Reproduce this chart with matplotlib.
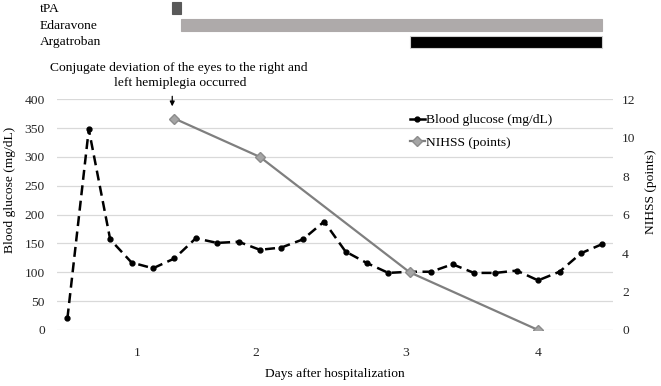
import matplotlib.pyplot as plt
from matplotlib.lines import Line2D

plt.rcParams['font.family'] = ['Liberation Serif', 'DejaVu Serif']
FS = 9.7

# blood glucose measured at regular intervals (index positions on the x axis)
glucose = [20, 348, 157, 117, 107, 124, 159, 151, 153, 139, 143, 157, 188,
           136, 116, 99, 101, 101, 114, 99, 99, 103, 86, 101, 133, 149]
glucose_x = list(range(len(glucose)))

# NIHSS score at the matching glucose time points
nihss_x = [5, 9, 16, 22]
nihss = [11, 9, 3, 0]

# day labels and where they sit on the index axis
day_pos = [3.25, 8.8, 15.8, 22.0]
day_labels = ["1", "2", "3", "4"]

# drug administration periods (start, end) in index units
drugs = ["tPA", "Edaravone", "Argatroban"]
drug_start = [4.9, 5.3, 16.0]
drug_end = [5.3, 25.0, 25.0]
drug_colors = ["#595959", "#AEAAAA", "#000000"]

W, H = 661, 386
fig = plt.figure(figsize=(W / 100, H / 100), dpi=100)

left, right = 56.7 / W, 613 / W
ax = fig.add_axes([left, 1 - 330 / H, right - left, (330 - 99.3) / H])
ax2 = ax.twinx()

ax.plot(glucose_x, glucose, color="black", ls=(0, (4, 2.2)), lw=1.8,
        marker="o", ms=3.5, zorder=3)
ax2.plot(nihss_x, nihss, color="#7F7F7F", lw=1.6, marker="D", ms=5.5,
         mfc="#A5A5A5", mec="#8C8C8C", zorder=2)

ax.set_xlim(-0.5, 25.5)
ax.set_ylim(0, 400)
ax.set_yticks(range(0, 401, 50))
ax2.set_ylim(0, 12)
ax2.set_yticks(range(0, 13, 2))
ax.set_xticks(day_pos)
ax.set_xticklabels(day_labels)
ax.yaxis.grid(True, color="#D9D9D9", lw=0.9)
ax.set_axisbelow(True)

for a in (ax, ax2):
    for s in a.spines.values():
        s.set_visible(False)
    a.tick_params(length=0, labelsize=FS, colors="#262626")
ax.tick_params(axis="y", pad=8.4)
ax.tick_params(axis="x", pad=12)
ax2.tick_params(axis="y", pad=6.5)

ax.set_xlabel("Days after hospitalization", fontsize=FS, labelpad=7)
ax.set_ylabel("Blood glucose (mg/dL)", fontsize=FS)
ax.yaxis.set_label_coords(16 / W, 1 - 190 / H, transform=fig.transFigure)
ax2.set_ylabel("NIHSS (points)", fontsize=FS)
ax2.yaxis.set_label_coords(645 / W, 1 - 192 / H, transform=fig.transFigure)

handles = [
    Line2D([], [], color="black", lw=1.8, marker="o", ms=3.5),
    Line2D([], [], color="#7F7F7F", lw=1.6, marker="D", ms=5.5,
           mfc="#A5A5A5", mec="#8C8C8C"),
]
ax.legend(handles, ["Blood glucose (mg/dL)", "NIHSS (points)"],
          loc="center left", bbox_to_anchor=(410 / W, 1 - 131.5 / H),
          bbox_transform=fig.transFigure, frameon=False,
          fontsize=FS, handlelength=1.1, handletextpad=0.1,
          labelspacing=0.75, borderpad=0, borderaxespad=0)

fig.text(179 / W, 1 - 68 / H, "Conjugate deviation of the eyes to the right and",
         fontsize=FS, va="center", ha="center")
fig.text(180 / W, 1 - 83 / H, "left hemiplegia occurred",
         fontsize=FS, va="center", ha="center")
ax.annotate("", xy=(nihss_x[0] - 0.1, 383), xytext=(nihss_x[0] - 0.1, 410),
            arrowprops=dict(arrowstyle="-|>", color="black", lw=0.9,
                            mutation_scale=7), annotation_clip=False)

# treatment bars on top
axt = fig.add_axes([left, 1 - 50 / H, right - left, 50 / H], sharex=ax)
axt.set_ylim(50, 0)
bar_y = [8, 25, 41.5]
for name, s, e, c, y in zip(drugs, drug_start, drug_end, drug_colors, bar_y):
    axt.barh(y, e - s, left=s, height=12, color=c,
             edgecolor="#D0D0D0" if name == "Argatroban" else c, lw=0.8)
    fig.text(40 / W, 1 - (y + 1) / H, name, fontsize=FS, va="center", ha="left")
axt.axis("off")

fig.savefig("out.png", dpi=100)
